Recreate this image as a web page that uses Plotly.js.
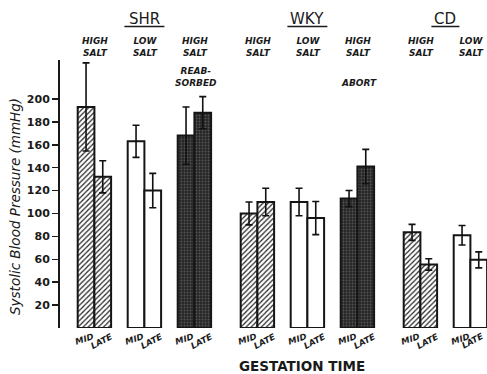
<!DOCTYPE html>
<html>
<head>
<meta charset="utf-8">
<script src="https://cdn.plot.ly/plotly-3.0.1.min.js"></script>
<style>html,body{margin:0;padding:0;background:#fff;}#chart{width:487px;height:374px;}</style>
</head>
<body>
<div id="chart"></div>
<script>
// ---- data ----
var strains   = ["SHR", "WKY", "CD"];
var pairStrain = ["SHR", "SHR", "SHR", "WKY", "WKY", "WKY", "CD", "CD"];
var pairDiet   = ["HIGH<br>SALT", "LOW<br>SALT", "HIGH<br>SALT", "HIGH<br>SALT", "LOW<br>SALT", "HIGH<br>SALT", "HIGH<br>SALT", "LOW<br>SALT"];
var pairNote   = ["", "", "REAB-<br>SORBED", "", "", "ABORT", "", ""];
var pairKind   = ["hatch", "open", "dark", "hatch", "open", "dark", "hatch", "open"];
var timeLabels = ["MID", "LATE"];
var midMean  = [193, 163, 168, 100, 110, 113, 83.5, 81];
var midErr   = [38.5, 14, 25, 10, 12, 7, 7, 8.5];
var lateMean = [132, 120, 188, 110, 96, 141, 55.5, 59.5];
var lateErr  = [14, 15, 14, 12, 14.5, 15, 5, 7];
var yTicks = [20, 40, 60, 80, 100, 120, 140, 160, 180, 200];

// ---- layout helpers (pixel-like x units) ----
var barW = 16.7;
function pairStart(i){ return 17.7 + i*50 + strains.indexOf(pairStrain[i])*13; }
var midX  = pairStrain.map(function(s,i){ return pairStart(i) + barW/2; });
var lateX = pairStrain.map(function(s,i){ return pairStart(i) + barW*1.5; });
var pairCenter = pairStrain.map(function(s,i){ return pairStart(i) + barW; });

var styles = {
  hatch: {color:"#ffffff", pattern:{shape:"/", fgcolor:"#2a2a2a", bgcolor:"#ffffff", size:3.6, solidity:0.35}},
  open:  {color:"#ffffff", pattern:null},
  dark:  {color:"#2a2a2a", pattern:{shape:".", fgcolor:"#555555", bgcolor:"#262626", size:3, solidity:0.3}}
};

var data = [];
["hatch", "open", "dark"].forEach(function(kind){
  [[midX, midMean, midErr, timeLabels[0]], [lateX, lateMean, lateErr, timeLabels[1]]].forEach(function(t){
    var idx = [];
    pairKind.forEach(function(k,i){ if(k===kind) idx.push(i); });
    var marker = {color:styles[kind].color, line:{color:"#151515", width:2}};
    if(styles[kind].pattern) marker.pattern = styles[kind].pattern;
    data.push({
      type:"bar", name:kind + " " + t[3],
      x:idx.map(function(i){return t[0][i];}),
      y:idx.map(function(i){return t[1][i];}),
      width:idx.map(function(){return barW;}),
      marker:marker,
      error_y:{type:"data", array:idx.map(function(i){return t[2][i];}), visible:true, color:"#111", thickness:1.6, width:3.5},
      hoverinfo:"skip", showlegend:false
    });
  });
});

var plotL = 60, plotT = 60, plotW = 427, plotH = 268;
function py(px){ return (plotT + plotH - px)/plotH; }

var annotations = [];
var shapes = [];
var labFont = {family:"DejaVu Sans", size:9, color:"#1a1a1a", weight:"bold", style:"italic"};
var timeFont = {family:"DejaVu Sans", size:8.5, color:"#1a1a1a", weight:"bold", style:"italic"};

strains.forEach(function(s){
  var cs = [];
  pairStrain.forEach(function(p,i){ if(p===s) cs.push(pairCenter[i]); });
  var c = cs.reduce(function(a,b){return a+b;},0)/cs.length;
  annotations.push({xref:"x", yref:"paper", x:c, y:py(19), xanchor:"center", yanchor:"middle",
    text:s, showarrow:false, font:{family:"DejaVu Sans", size:15, color:"#1a1a1a"}});
  var hw = 6*s.length + 2;
  shapes.push({type:"line", xref:"x", yref:"paper", x0:c-hw, x1:c+hw, y0:py(26.5), y1:py(26.5),
    line:{color:"#1a1a1a", width:1.5}});
});

pairDiet.forEach(function(d,i){
  annotations.push({xref:"x", yref:"paper", x:pairCenter[i]+1, y:py(47), xanchor:"center", yanchor:"middle",
    text:d, showarrow:false, font:labFont});
  if(pairNote[i]){
    annotations.push({xref:"x", yref:"paper", x:pairCenter[i]+2, y:py(90), xanchor:"center", yanchor:"bottom",
      text:pairNote[i], showarrow:false, font:labFont});
  }
  annotations.push({xref:"x", yref:"paper", x:midX[i]-2, y:py(339), xanchor:"center", yanchor:"middle",
    text:timeLabels[0], textangle:-18, showarrow:false, font:timeFont});
  annotations.push({xref:"x", yref:"paper", x:Math.min(lateX[i]-1, plotW-15), y:py(341), xanchor:"center", yanchor:"middle",
    text:timeLabels[1], textangle:-28, showarrow:false, font:timeFont});
});

annotations.push({xref:"paper", yref:"paper", x:(302-plotL)/plotW, y:py(366), xanchor:"center", yanchor:"middle",
  text:"GESTATION TIME", showarrow:false, font:{family:"DejaVu Sans", size:13.5, color:"#1a1a1a", weight:"bold"}});
annotations.push({xref:"paper", yref:"paper", x:(15-plotL)/plotW, y:py(207), xanchor:"center", yanchor:"middle",
  text:"Systolic Blood Pressure (mmHg)", textangle:-90, showarrow:false,
  font:{family:"DejaVu Sans", size:13.5, color:"#1a1a1a", style:"italic"}});

var layout = {
  width:487, height:374,
  margin:{l:plotL, r:487-plotL-plotW, t:plotT, b:374-plotT-plotH, pad:0},
  paper_bgcolor:"#fff", plot_bgcolor:"#fff",
  showlegend:false,
  xaxis:{range:[0, plotW], visible:false, fixedrange:true},
  yaxis:{range:[0, 234], tickvals:yTicks, ticktext:yTicks.map(String), ticks:"outside", ticklen:6, tickwidth:1.5,
    tickcolor:"#1a1a1a", showline:true, linecolor:"#1a1a1a", linewidth:2, showgrid:false, zeroline:false,
    tickfont:{family:"DejaVu Sans", size:11, color:"#1a1a1a", weight:"bold"}, fixedrange:true},
  annotations:annotations,
  shapes:shapes,
  barmode:"overlay",
  bargap:0
};
Plotly.newPlot("chart", data, layout, {displayModeBar:false, staticPlot:true});
</script>
</body>
</html>
